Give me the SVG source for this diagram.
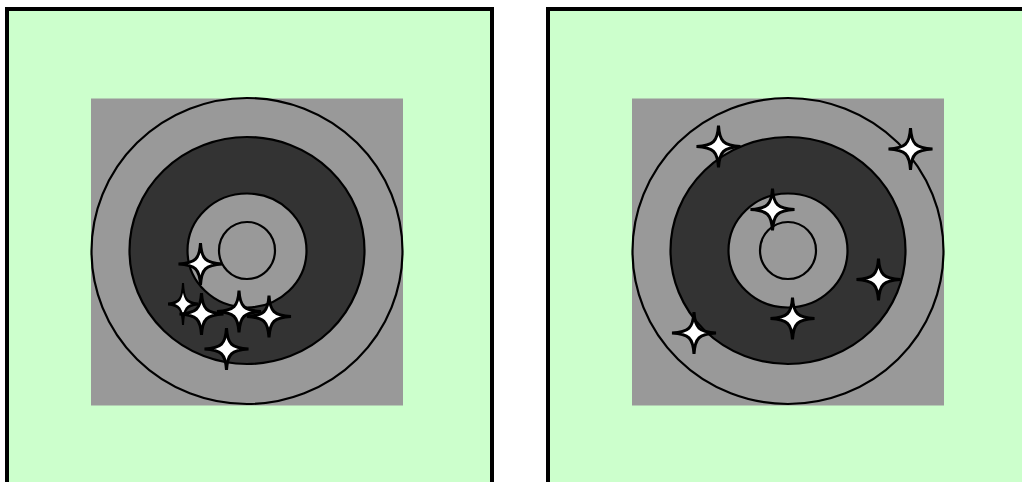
<svg xmlns="http://www.w3.org/2000/svg" xmlns:xlink="http://www.w3.org/1999/xlink" width="1022" height="482" viewBox="0 0 1022 482">
<style>
.panel{fill:#ccffcc;stroke:#000;stroke-width:4}
.bg{fill:#999999}
.ring{stroke:#000;stroke-width:2.2}
.lt{fill:#999999}
.dk{fill:#333333}
.star{fill:#fff;stroke:#000;stroke-width:3;stroke-linejoin:miter;stroke-miterlimit:10}
</style>
<defs>
<path id="star" d="M0,-21 C1,-5 5,-1 22,0 C5,1 1,5 0,21 C-1,5 -5,1 -22,0 C-5,-1 -1,-5 0,-21 Z"/>
<g id="target">
<rect class="bg" x="-156" y="-152.5" width="312" height="307"/>
<ellipse class="ring lt" cx="0" cy="0" rx="155.5" ry="153"/>
<ellipse class="ring dk" cx="0" cy="-0.5" rx="117.5" ry="113.5"/>
<ellipse class="ring lt" cx="0" cy="-0.5" rx="59.5" ry="57"/>
<ellipse class="ring lt" cx="0" cy="-0.5" rx="28" ry="28.5"/>
</g>
</defs>
<g id="panel-left">
<rect class="panel" x="7" y="9" width="485" height="490"/>
<use xlink:href="#target" transform="translate(247,251)"/>
<g id="stars-left">
<use class="star" xlink:href="#star" transform="translate(200.5,264)"/>
<use class="star" xlink:href="#star" transform="translate(183,304) scale(0.68,1)"/>
<use class="star" xlink:href="#star" transform="translate(201.5,314)"/>
<use class="star" xlink:href="#star" transform="translate(239,311.5)"/>
<use class="star" xlink:href="#star" transform="translate(269,316.5)"/>
<use class="star" xlink:href="#star" transform="translate(226.5,349)"/>
</g>
</g>
<g id="panel-right">
<rect class="panel" x="548" y="9" width="490" height="490"/>
<use xlink:href="#target" transform="translate(788,251)"/>
<g id="stars-right">
<use class="star" xlink:href="#star" transform="translate(718.5,146.5)"/>
<use class="star" xlink:href="#star" transform="translate(910.5,149)"/>
<use class="star" xlink:href="#star" transform="translate(772.5,209.5)"/>
<use class="star" xlink:href="#star" transform="translate(878.5,279.5)"/>
<use class="star" xlink:href="#star" transform="translate(792.5,318.5)"/>
<use class="star" xlink:href="#star" transform="translate(694,333)"/>
</g>
</g>
<g id="connectors"/>
</svg>
